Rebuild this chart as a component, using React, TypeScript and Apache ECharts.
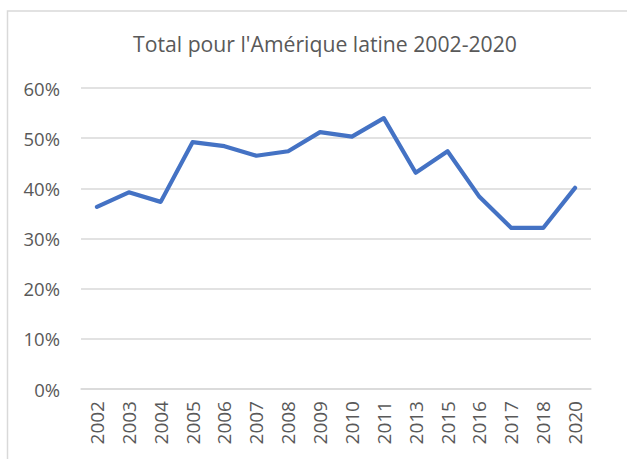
import React, { useEffect, useRef } from "react";
import * as echarts from "echarts";

const TITLE = "Total pour l'Amérique latine 2002-2020";
const years = ["2002", "2003", "2004", "2005", "2006", "2007", "2008", "2009", "2010", "2011", "2013", "2015", "2016", "2017", "2018", "2020"];
const totals = [36.3, 39.2, 37.3, 49.2, 48.4, 46.5, 47.4, 51.2, 50.3, 54.0, 43.1, 47.4, 38.3, 32.1, 32.1, 40.1];
const yTicks = { min: 0, max: 60, interval: 10 };

export default function App() {
  const ref = useRef<HTMLDivElement>(null);
  useEffect(() => {
    document.body.style.margin = "0";
    const chart = echarts.init(ref.current!, null, { renderer: "svg" });
    const font = "'Open Sans', sans-serif";
    chart.setOption({
      animation: false,
      backgroundColor: "#ffffff",
      title: {
        text: TITLE,
        left: 320,
        textAlign: "center",
        top: 28,
        textStyle: { fontFamily: font, fontSize: 21.2, fontWeight: "normal", color: "#595959" },
      },
      graphic: [
        {
          type: "rect",
          shape: { x: 7.5, y: 11, width: 700, height: 600 },
          style: { fill: "none", stroke: "#d9d9d9", lineWidth: 1.5 },
          silent: true,
        },
      ],
      grid: { left: 81, right: 36, top: 88, bottom: 70, containLabel: false },
      xAxis: {
        type: "category",
        data: years,
        boundaryGap: true,
        axisLine: { show: true, lineStyle: { color: "#d9d9d9", width: 1.5 } },
        axisTick: { show: false },
        axisLabel: { rotate: 90, margin: 12, fontFamily: font, fontSize: 19, color: "#595959", interval: 0 },
      },
      yAxis: {
        type: "value",
        min: yTicks.min,
        max: yTicks.max,
        interval: yTicks.interval,
        axisLine: { show: false },
        axisTick: { show: false },
        axisLabel: { formatter: "{value}%", margin: 21, fontFamily: font, fontSize: 18.5, color: "#595959" },
        splitLine: { lineStyle: { color: "#d9d9d9", width: 1.5 } },
      },
      series: [
        {
          type: "line",
          data: totals,
          symbol: "none",
          lineStyle: { color: "#4472C4", width: 4.2, cap: "round", join: "round" },
        },
      ],
    });
    return () => chart.dispose();
  }, []);
  return <div ref={ref} style={{ position: "absolute", left: 0, top: 0, width: 627, height: 459 }} />;
}
